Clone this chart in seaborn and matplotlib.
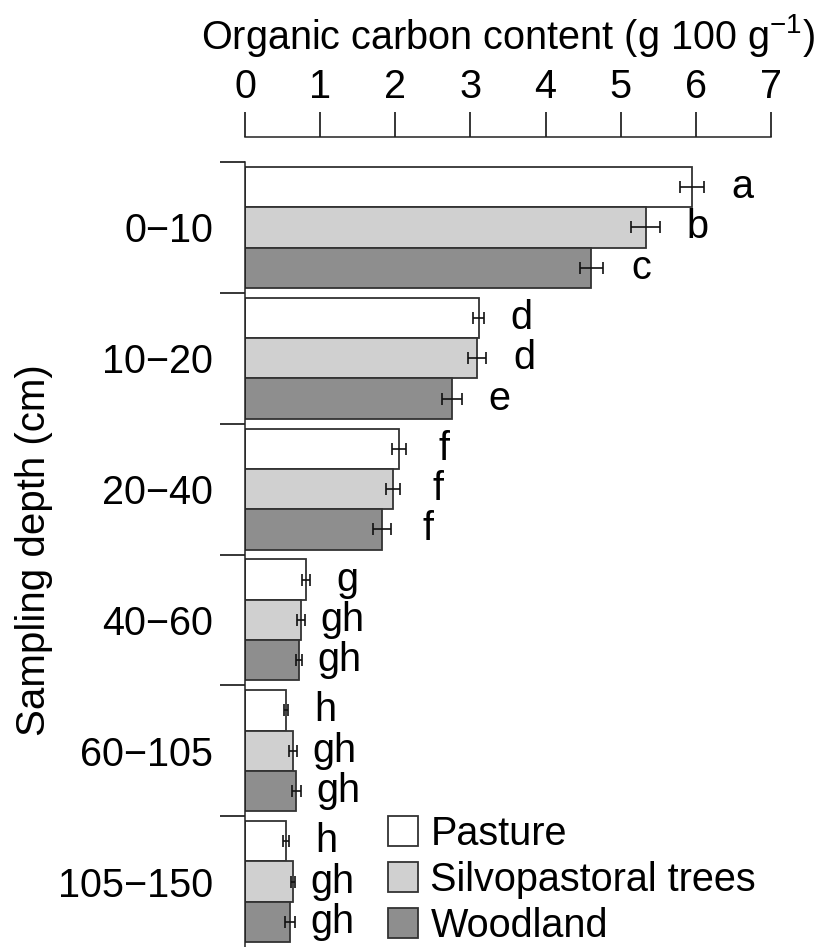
import matplotlib
matplotlib.use("Agg")
import matplotlib.pyplot as plt
import seaborn as sns
import pandas as pd
import numpy as np

depths = ["0\u221210", "10\u221220", "20\u221240", "40\u221260", "60\u2212105", "105\u2212150"]
systems = ["Pasture", "Silvopastoral trees", "Woodland"]

pasture = [5.95, 3.11, 2.05, 0.81, 0.545, 0.545]
silvo = [5.33, 3.09, 1.97, 0.75, 0.64, 0.64]
woodland = [4.61, 2.75, 1.82, 0.72, 0.68, 0.60]

pasture_err = [0.165, 0.073, 0.093, 0.049, 0.027, 0.038]
silvo_err = [0.196, 0.122, 0.093, 0.053, 0.053, 0.029]
woodland_err = [0.157, 0.133, 0.120, 0.038, 0.060, 0.066]

pasture_let = ["a", "d", "f", "g", "h", "h"]
silvo_let = ["b", "d", "f", "gh", "gh", "gh"]
woodland_let = ["c", "e", "f", "gh", "gh", "gh"]

xticks = [0, 1, 2, 3, 4, 5, 6, 7]

values = [pasture, silvo, woodland]
errs = [pasture_err, silvo_err, woodland_err]
lets = [pasture_let, silvo_let, woodland_let]

rows = []
for s, v in zip(systems, values):
    for d, x in zip(depths, v):
        rows.append({"depth": d, "system": s, "value": x})
df = pd.DataFrame(rows)

sns.set_style("ticks")
plt.rcParams["font.family"] = ["Liberation Sans", "DejaVu Sans"]
plt.rcParams["text.color"] = "black"
plt.rcParams["axes.labelcolor"] = "black"
plt.rcParams["xtick.color"] = "black"
plt.rcParams["ytick.color"] = "black"
plt.rcParams["axes.edgecolor"] = "#222222"
FS = 28.5

fig = plt.figure(figsize=(8.19, 9.47), dpi=100)
ax = fig.add_axes([245 / 819, 0, 526 / 819, 785 / 947])

palette = {"Pasture": "#ffffff", "Silvopastoral trees": "#d0d0d0", "Woodland": "#8e8e8e"}
sns.barplot(data=df, x="value", y="depth", hue="system", order=depths, hue_order=systems,
            orient="h", width=0.925, errorbar=None, palette=palette,
            edgecolor="#333333", linewidth=1.3, ax=ax, saturation=1)

for cont, err, lab, val in zip(ax.containers, errs, lets, values):
    ys = [p.get_y() + p.get_height() / 2 for p in cont.patches]
    ax.errorbar(val, ys, xerr=err, fmt="none", ecolor="#111111", elinewidth=1.2,
                capsize=4.5, capthick=1.2, zorder=5)
    for x, e, y, t in zip(val, err, ys, lab):
        ax.text(x + e + 0.5, y, t, ha="center", va="center", fontsize=FS, color="black")

ax.set_xlim(0, 7)
ax.set_ylim(5.5, -0.5)
ax.xaxis.tick_top()
ax.xaxis.set_label_position("top")
ax.set_xticks(xticks)
ax.set_xticklabels([str(t) for t in xticks], fontsize=FS)
ax.tick_params(axis="x", direction="out", length=18, width=1.1, pad=4, colors="black", labelsize=FS)
ax.set_xlabel("Organic carbon content (g 100 g$^{\\mathregular{\u22121}}$)", fontsize=FS, labelpad=14)

ax.set_yticks(np.arange(len(depths)) - 0.5)
ax.set_yticklabels([])
ax.set_yticks(np.arange(len(depths)), minor=True)
ax.set_yticklabels(depths, minor=True, fontsize=FS)
ax.tick_params(axis="y", which="major", direction="out", length=18, width=1.1, colors="black")
ax.tick_params(axis="y", which="minor", length=0, pad=23, labelsize=FS, colors="black")
ax.set_ylabel("Sampling depth (cm)", fontsize=29)
ax.yaxis.set_label_coords(-0.365, 0.505)

for side in ["right", "bottom"]:
    ax.spines[side].set_visible(False)
ax.spines["top"].set_position(("outward", 18))
ax.spines["top"].set_linewidth(1.1)
ax.spines["left"].set_linewidth(1.1)

handles, labels = ax.get_legend_handles_labels()
ax.legend(handles, labels, loc="upper left", bbox_to_anchor=(388 / 819, 1 - 815 / 947),
          bbox_transform=fig.transFigure, frameon=False, fontsize=FS,
          handlelength=0.77, handleheight=0.77, handletextpad=0.3, labelspacing=0.2,
          borderpad=0, borderaxespad=0)

fig.savefig("out.png", dpi=100)
